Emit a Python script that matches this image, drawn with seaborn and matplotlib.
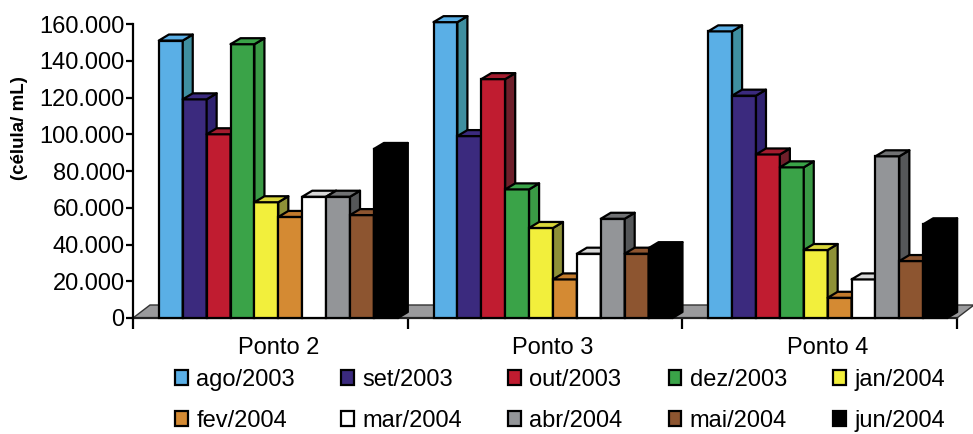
import numpy as np
import pandas as pd
import matplotlib
matplotlib.use("Agg")
import matplotlib.pyplot as plt
import matplotlib.ticker as mticker
from matplotlib.patches import Polygon, Rectangle
import seaborn as sns

# ---- data (células/mL) ----
pontos = ["Ponto 2", "Ponto 3", "Ponto 4"]
meses = ["ago/2003", "set/2003", "out/2003", "dez/2003", "jan/2004",
         "fev/2004", "mar/2004", "abr/2004", "mai/2004", "jun/2004"]
ponto2 = [151000, 119000, 100000, 149000, 63000, 55000, 66000, 66000, 56000, 92000]
ponto3 = [161000, 99000, 130000, 70000, 49000, 21000, 35000, 54000, 35000, 38000]
ponto4 = [156000, 121000, 89000, 82000, 37000, 11000, 21000, 88000, 31000, 51000]
cores = ["#5aafe6", "#3b2a7e", "#c01c30", "#3aa348", "#f2ef3c",
         "#d48a33", "#ffffff", "#939598", "#8d5530", "#000000"]
cores_topo = ["#5aafe6", "#3b2a7e", "#a31c2e", "#3aa348", "#d9d63a",
              "#c27a2c", "#d8d8d8", "#707173", "#8d5530", "#000000"]
cores_lado = ["#3f8fa0", "#2f2270", "#6e1f2a", "#3a9a45", "#8e9137",
              "#a8692a", "#e6e6e6", "#555759", "#6e3f22", "#000000"]
y_ticks = [0, 20000, 40000, 60000, 80000, 100000, 120000, 140000, 160000]

df = pd.DataFrame({
    "ponto": np.repeat(pontos, len(meses)),
    "mes": meses * len(pontos),
    "valor": ponto2 + ponto3 + ponto4,
})

sns.set_theme(style="white")
plt.rcParams["font.family"] = ["Liberation Sans", "DejaVu Sans"]
plt.rcParams["text.color"] = "black"

W, H = 973, 434
fig = plt.figure(figsize=(W / 100, H / 100), dpi=100)
ax_l, ax_r, ax_t, ax_b = 133, 957, 24, 318
ax = fig.add_axes([ax_l / W, 1 - ax_b / H, (ax_r - ax_l) / W, (ax_b - ax_t) / H])

sns.barplot(data=df, x="ponto", y="valor", hue="mes", hue_order=meses,
            palette=cores, width=0.87, edgecolor="black", linewidth=1.6,
            saturation=1, legend=False, ax=ax)

# pixel -> data conversions for the depth effect
px_x = 3.0 / (ax_r - ax_l)
px_y = 160000 / (ax_b - ax_t)
shift = 8 * px_x
x_lo, x_hi = -0.5 - shift, 2.5 - shift
ax.set_xlim(x_lo, x_hi)
ax.set_ylim(0, 160000)

bdx, bdy = 10 * px_x, 6 * px_y      # bar depth
fdx, fdy = 17 * px_x, 13 * px_y     # floor depth

# floor slab
floor = Polygon([(x_lo, 0), (x_hi, 0), (x_hi + fdx, fdy), (x_lo + fdx, fdy)],
                closed=True, facecolor="#9a9a9c", edgecolor="#333333",
                linewidth=1.0, zorder=1, clip_on=False)
ax.add_patch(floor)

# 3D faces (top and right side) for every bar, painted left to right
for k, cont in enumerate(ax.containers):
    for bar in cont.patches:
        x0 = bar.get_x()
        x1 = x0 + bar.get_width()
        h = bar.get_height()
        z = 3 + x0
        bar.set_zorder(z)
        bar.set_clip_on(False)
        top = Polygon([(x0, h), (x1, h), (x1 + bdx, h + bdy), (x0 + bdx, h + bdy)],
                      closed=True, facecolor=cores_topo[k], edgecolor="black",
                      linewidth=1.6, zorder=z, clip_on=False, joinstyle="round")
        side = Polygon([(x1, 0), (x1 + bdx, bdy), (x1 + bdx, h + bdy), (x1, h)],
                       closed=True, facecolor=cores_lado[k], edgecolor="black",
                       linewidth=1.6, zorder=z, clip_on=False, joinstyle="round")
        ax.add_patch(side)
        ax.add_patch(top)

# axes styling
for s in ["top", "right"]:
    ax.spines[s].set_visible(False)
ax.spines["left"].set_linewidth(1.6)
ax.spines["left"].set_color("black")
ax.spines["left"].set_zorder(20)
ax.spines["bottom"].set_linewidth(1.6)
ax.spines["bottom"].set_color("#222222")
ax.spines["bottom"].set_zorder(2)

ax.set_yticks(y_ticks)
ax.yaxis.set_major_formatter(mticker.FuncFormatter(
    lambda v, p: "0" if v == 0 else f"{int(v):,}".replace(",", ".")))
ax.tick_params(axis="y", direction="out", length=5, width=1.6, pad=1,
               labelsize=17, colors="black", left=True)
ax.set_xticks([0, 1, 2])
ax.set_xticklabels(pontos)
ax.xaxis.set_minor_locator(mticker.FixedLocator([x_lo, x_lo + 1, x_lo + 2, x_hi]))
ax.tick_params(axis="x", which="major", length=0, pad=14, labelsize=17,
               colors="black")
ax.tick_params(axis="x", which="minor", direction="out", length=8, width=1.6,
               bottom=True, color="black")
ax.set_xlabel("")
ax.set_ylabel("(célula/ mL)", fontsize=13.5, fontweight="bold", color="black")
ax.yaxis.set_label_coords(-0.127, 0.646)
ax.grid(False)

# legend: 2 rows x 5 columns, filled row by row
handles = [Rectangle((0, 0), 1, 1, facecolor=c, edgecolor="black", linewidth=1.6)
           for c in cores]
ordem = [i + 5 * r for i in range(5) for r in range(2)]
leg = fig.legend([handles[i] for i in ordem], [meses[i] for i in ordem], ncol=5,
                 loc="upper left", bbox_to_anchor=(175 / W, 1 - 369 / H),
                 frameon=False, fontsize=17,
                 handlelength=0.55, handleheight=0.6, handletextpad=0.35,
                 columnspacing=1.95, labelspacing=0.8, borderpad=0,
                 borderaxespad=0)
for t in leg.get_texts():
    t.set_color("black")

fig.savefig("out.png", dpi=100, facecolor="white")
